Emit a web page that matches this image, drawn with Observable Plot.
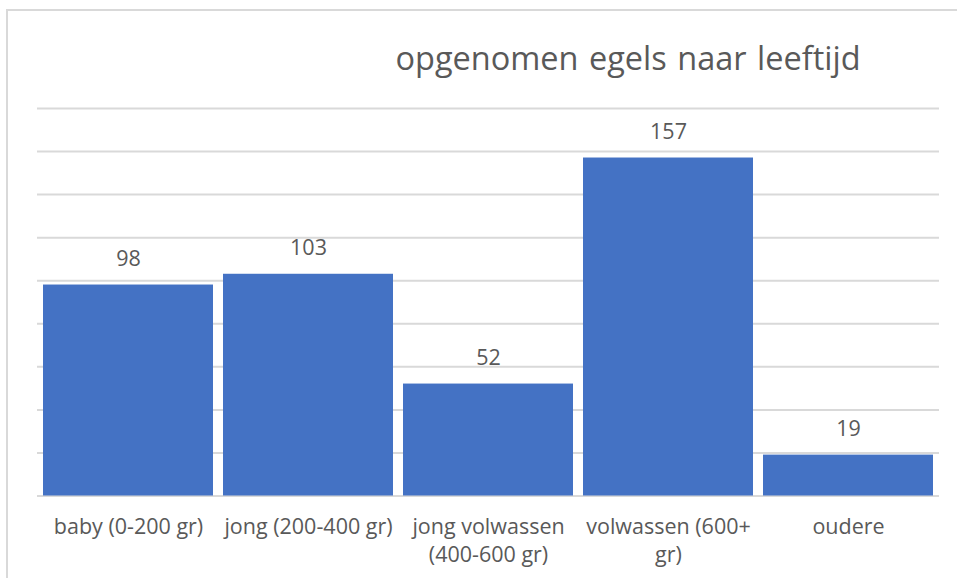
<!DOCTYPE html>
<html>
<head>
<meta charset="utf-8">
<script src="https://cdn.jsdelivr.net/npm/d3@7"></script>
<script src="https://cdn.jsdelivr.net/npm/@observablehq/plot@0.6"></script>
<style>
  html, body { margin: 0; padding: 0; background: #fff; }
  #wrap { position: relative; width: 957px; height: 578px; overflow: hidden; font-family: "Open Sans", sans-serif; }
  #chart { position: absolute; left: 0; top: 0; }
  #frame { position: absolute; left: 6px; top: 9px; width: 1000px; height: 700px;
           border-top: 2px solid #d9d9d9; border-left: 2px solid #d9d9d9; pointer-events: none; }
  #title { position: absolute; top: 42px; left: 628px; transform: translateX(-50%);
           white-space: nowrap; font-size: 32.5px; line-height: 1; color: #595959; word-spacing: 2px; }
</style>
</head>
<body>
<div id="wrap">
  <div id="chart"></div>
  <div id="frame"></div>
  <div id="title">opgenomen egels naar leeftijd</div>
</div>
<script>
const categories = ["baby (0-200 gr)", "jong (200-400 gr)", "jong volwassen (400-600 gr)", "volwassen (600+ gr)", "oudere"];
const tickLabels = ["baby (0-200 gr)", "jong (200-400 gr)", "jong volwassen\n(400-600 gr)", "volwassen (600+\ngr)", "oudere"];
const values = [98, 103, 52, 157, 19];
const gridValues = [0, 20, 40, 60, 80, 100, 120, 140, 160, 180];

const data = categories.map((c, i) => ({cat: c, value: values[i]}));

const chart = Plot.plot({
  width: 957,
  height: 578,
  marginTop: 108,
  marginBottom: 82.5,
  marginLeft: 37,
  marginRight: 18,
  style: {background: "transparent", color: "#595959", fontFamily: "'Open Sans', sans-serif"},
  x: {type: "band", domain: categories, paddingInner: 0.055, paddingOuter: 0.0275, axis: null},
  y: {domain: [0, 180], axis: null},
  marks: [
    Plot.ruleY(gridValues, {stroke: "#d9d9d9", strokeWidth: 2}),
    Plot.barY(data, {x: "cat", y: "value", fill: "#4472C4"}),
    Plot.text(data, {x: "cat", y: "value", text: d => String(d.value), dy: -26, fontSize: 21.5, fill: "#595959"}),
    Plot.axisX({tickSize: 0, tickPadding: 18, fontSize: 21.5, lineHeight: 1.3, label: null,
                tickFormat: d => tickLabels[categories.indexOf(d)], fill: "#595959"})
  ]
});
document.getElementById("chart").appendChild(chart);
</script>
</body>
</html>
